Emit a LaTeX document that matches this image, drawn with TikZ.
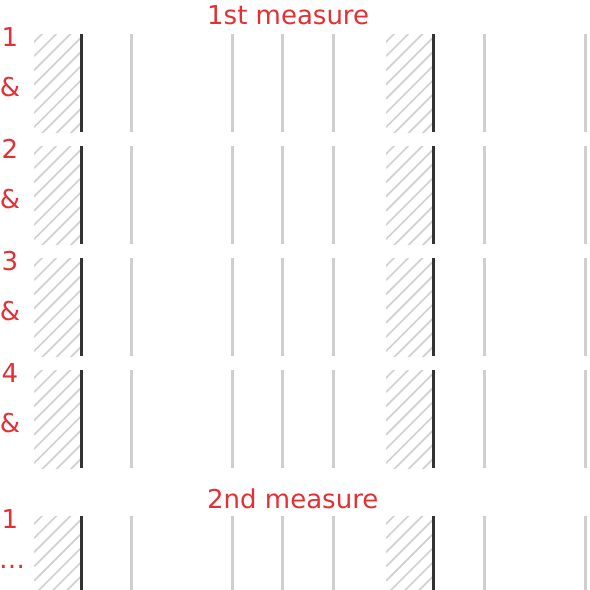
\documentclass[tikz,border=0pt]{standalone}
\usepackage{fontspec}
\setmainfont{DejaVu Sans}
\definecolor{beatred}{RGB}{226,48,52}
\begin{document}
\begin{tikzpicture}[x=1pt,y=-1pt]
\tikzstyle{beat} = [draw=black!80, line width=3pt]
\tikzstyle{sub} = [draw=black!19, line width=3pt]
\tikzstyle{hatch} = [draw=black!18, line width=1.7pt]
\tikzstyle{count} = [text=beatred, font=\fontsize{26}{30}\selectfont, anchor=base, inner sep=0pt]
\tikzstyle{title} = [count, anchor=base west]

\useasboundingbox (0,0) rectangle (590,590);

\node[title] (m1) at (207,24) {1st measure};
\node[title] (m2) at (207,508) {2nd measure};

\foreach \y/\n/\k in {34/1/c1, 146/2/c2, 258/3/c3, 370/4/c4, 516/1/c5} {
  % hatched bands in front of the strong beats
  \foreach \x in {34,386} {
    \begin{scope}
      \clip (\x,\y) rectangle ++(47,98);
      \foreach \d in {8,22.2,...,150} \draw[hatch] (\x,\y+\d) -- ++(110,-110);
    \end{scope}
  }
  \foreach \x in {131,232,282,333,484,585} \draw[sub] (\x,\y) -- ++(0,98);
  \foreach \x in {81,433} \draw[beat] (\x,\y) -- ++(0,98);
  \node[count] (\k) at (10,\y+12) {\n};
}
\foreach \y/\k in {34/a1, 146/a2, 258/a3, 370/a4} \node[count] (\k) at (10,\y+62) {\&};
\node[count] (dots) at (12,568) {…};
\end{tikzpicture}
\end{document}
